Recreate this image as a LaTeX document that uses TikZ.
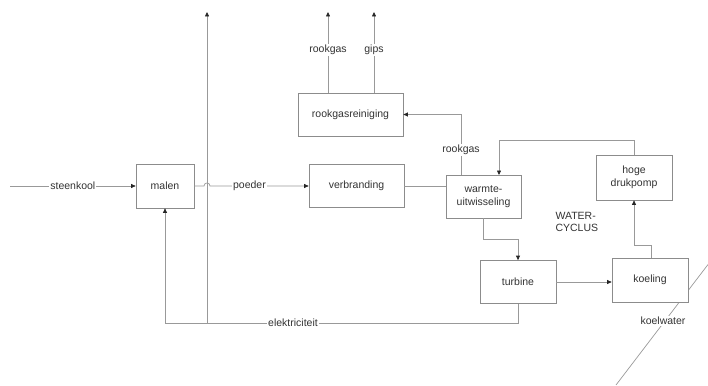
\documentclass[tikz,border=0pt]{standalone}
\usepackage{fontspec}
\setmainfont{Liberation Sans}
\usetikzlibrary{arrows.meta}
\begin{document}
\begin{tikzpicture}[x=1pt,y=-1pt,
  font=\fontsize{10.5}{12}\selectfont,
  every node/.style={text=black!80},
  block/.style={draw=black!45,fill=white,line width=0.7pt,align=center,inner sep=0pt},
  flow/.style={draw=black!40,line width=0.7pt},
  arr/.style={flow,-{Triangle[length=4.5pt,width=4pt,fill=black!85,color=black!85]}},
  tag/.style={fill=white,inner sep=1pt}]
\useasboundingbox (0,0) rectangle (708,385);

% cooling water line, partly hidden behind the cooling box
\draw[flow] (708,264.5) -- (616,385);

% process blocks
\node[block,minimum width=58pt,minimum height=44pt] (malen) at (165,186) {malen};
\node[block,minimum width=95pt,minimum height=43pt] (verbr) at (356.5,186) {verbranding};
\node[block,minimum width=105pt,minimum height=43pt] (rgr) at (350.5,114.5) {rookgasreiniging};
\node[block,minimum width=75pt,minimum height=43pt] (wu) at (483.5,196.5) {warmte-\\[1pt]uitwisseling};
\node[block,minimum width=76pt,minimum height=45pt] (hdp) at (634,177.5) {hoge\\[1pt]drukpomp};
\node[block,minimum width=76pt,minimum height=43pt] (turb) at (518,282) {turbine};
\node[block,minimum width=76pt,minimum height=44pt] (koel) at (650,280) {koeling};

% free ends
\coordinate (coalin) at (10,186);
\coordinate (eout) at (207,12);
\coordinate (gasout) at (328,12);
\coordinate (gipsout) at (374,12);
\coordinate (ebranch) at (207,323);

% coal feed
\draw[arr] (coalin) -- (malen.west) node[tag,pos=0.5] {steenkool};

% powder to the furnace, hopping over the electricity line
\draw[arr] (malen.east) -- (204,186) .. controls (204,182) and (210,182) .. (210,186)
  -- node[tag,pos=0.4] {poeder} (verbr.west);

% furnace to heat exchanger
\draw[flow] (verbr.east) -- (verbr.east -| wu.west);

% flue gas to cleaning
\draw[arr] (461,175) -- (461,114.5) -- (rgr.east);
\node[tag] (rglabel) at (461,150) {rookgas};

% cleaning outputs
\draw[arr] (328,93) -- (gasout);
\draw[arr] (374,93) -- (gipsout);
\node[tag] (lrook) at (328,50) {rookgas};
\node[tag] (lgips) at (374,50) {gips};

% water cycle
\draw[arr] (hdp.north) -- (634,140.7) -- (499,140.7) -- (499,175);
\draw[arr] (wu.south) -- (483.5,239) -- (518,239) -- (turb.north);
\draw[arr] (turb.east) -- (turb.east -| koel.west);
\draw[arr] (651,258) -- (651,245) -- (634,245) -- (hdp.south);
\node[align=left,anchor=north west] (wc) at (552,209) {WATER-\\[0pt]CYCLUS};

% electricity
\draw[arr] (turb.south) -- (518,323) -- (165,323) -- (malen.south);
\draw[arr] (ebranch) -- (eout);
\node[tag] (elabel) at (293,323) {elektriciteit};

% cooling water label
\node[tag] (kwlabel) at (663,321) {koelwater};
\end{tikzpicture}
\end{document}
